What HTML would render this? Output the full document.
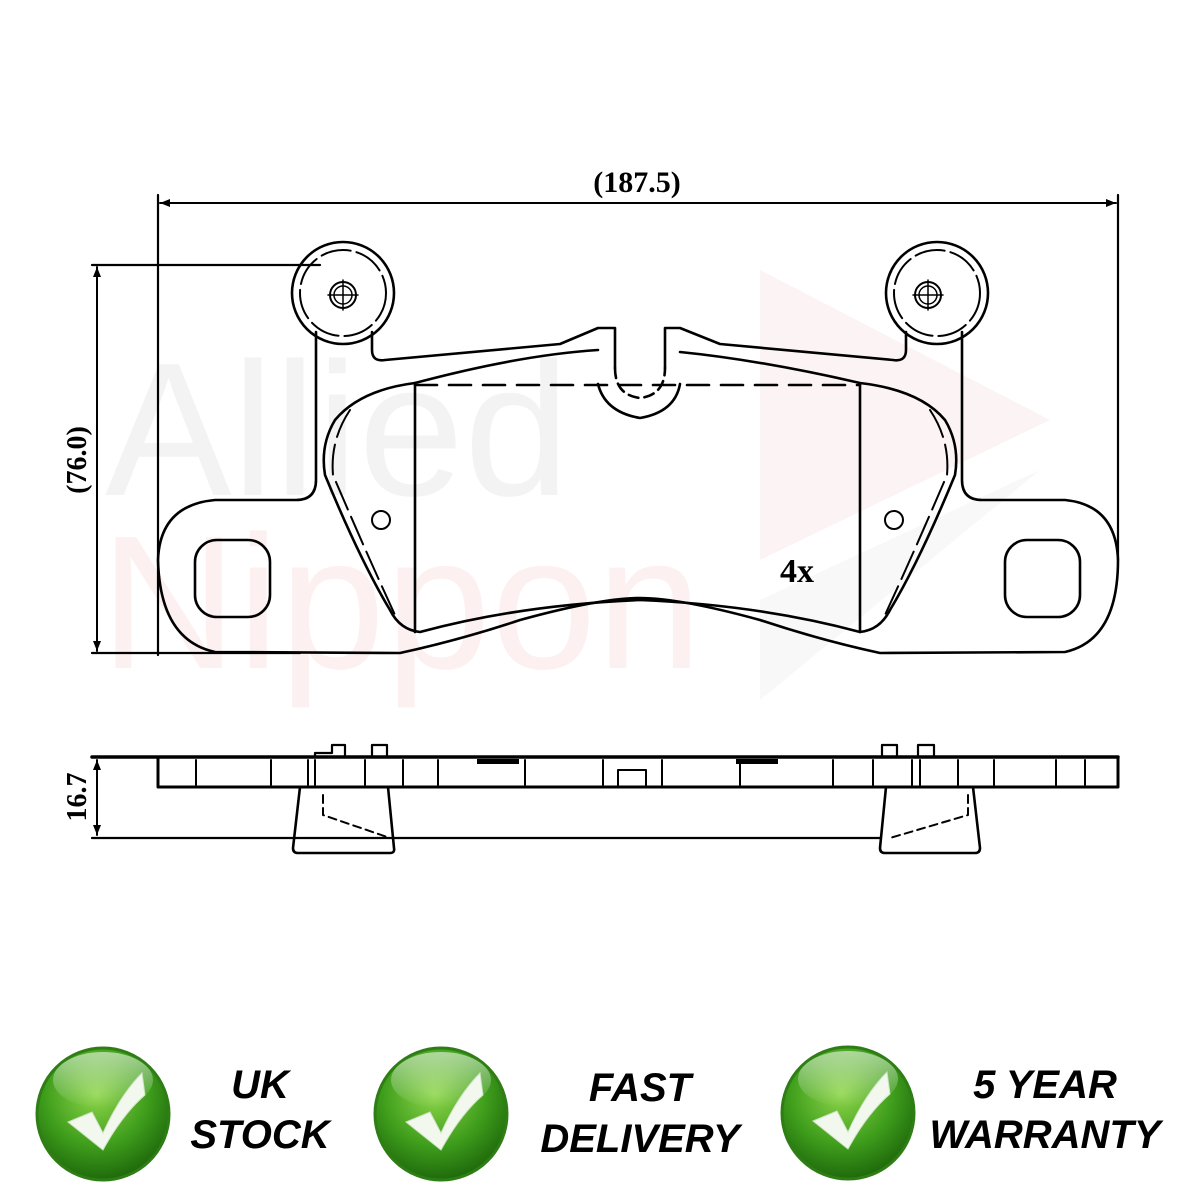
<!DOCTYPE html>
<html><head><meta charset="utf-8"><style>
html,body{margin:0;padding:0;background:#fff;}
svg{display:block}
</style></head><body>
<svg width="1200" height="1200" viewBox="0 0 1200 1200" xmlns="http://www.w3.org/2000/svg">
<defs>
<radialGradient id="g" cx="45%" cy="35%" r="65%">
<stop offset="0" stop-color="#8ed64a"/><stop offset="0.6" stop-color="#3f9e1c"/><stop offset="1" stop-color="#1f6a0c"/>
</radialGradient>
<linearGradient id="gl" x1="0" y1="0" x2="0" y2="1">
<stop offset="0" stop-color="#fff" stop-opacity="0.55"/><stop offset="1" stop-color="#fff" stop-opacity="0"/>
</linearGradient>
<marker id="a" viewBox="0 0 10 10" refX="10" refY="5" markerWidth="14" markerHeight="10" orient="auto-start-reverse" markerUnits="userSpaceOnUse"><path d="M0,1 L10,5 L0,9 z" fill="#000"/></marker>
</defs>
<!-- watermark -->
<text x="105" y="495" font-family="Liberation Sans, sans-serif" font-size="190" fill="#f3f3f3">Allied</text>
<text x="100" y="668" font-family="Liberation Sans, sans-serif" font-size="190" fill="#fcf0f0">Nippon</text>
<path d="M760 270 L1050 420 L760 560 Z" fill="#fcf4f4"/>
<path d="M760 600 L1040 470 L760 700 Z" fill="#f8f8f8"/>

<g fill="none" stroke="#000" stroke-width="2.6" stroke-linecap="round" stroke-linejoin="round">
<line x1="158" y1="195" x2="158" y2="655" stroke-width="2.2"/>
<line x1="1118" y1="195" x2="1118" y2="560" stroke-width="2.2"/>
<line x1="160" y1="203" x2="1116" y2="203" stroke-width="2" marker-start="url(#a)" marker-end="url(#a)"/>
<line x1="92" y1="265" x2="320" y2="265" stroke-width="2.2"/>
<line x1="92" y1="653" x2="300" y2="653" stroke-width="2.2"/>
<line x1="97" y1="267" x2="97" y2="651" stroke-width="2" marker-start="url(#a)" marker-end="url(#a)"/>

<path d="M316 332 L316 480 Q316 500 296 500 L215 500 Q160 505 158 560 Q160 640 215 652 L400 653 Q460 640 520 620 Q600 598 640 598 Q680 598 760 620 Q820 640 880 653 L1065 652 Q1118 640 1118 560 Q1116 505 1065 500 L982 500 Q962 500 962 480 L962 332"/>
<path d="M372 332 L372 350 Q372 362 385 360 L560 344 L598 328 L615 328 L615 368"/>
<path d="M906 332 L906 350 Q906 362 893 360 L720 344 L680 328 L665 328 L665 368"/>
<path d="M598 384 Q605 412 640 418 Q675 412 680 384"/>
<path d="M615 368 Q615 395 640 398 Q665 395 665 368" stroke-dasharray="10 6"/>
<circle cx="343" cy="293" r="51"/><circle cx="343" cy="293" r="43" stroke-width="2" stroke-dasharray="30 6"/>
<circle cx="937" cy="293" r="51"/><circle cx="937" cy="293" r="43" stroke-width="2" stroke-dasharray="30 6"/>
<circle cx="343" cy="295" r="13" stroke-width="2"/><circle cx="343" cy="295" r="9" stroke-width="1.5"/>
<line x1="328" y1="295" x2="358" y2="295" stroke-width="1.5"/><line x1="343" y1="280" x2="343" y2="310" stroke-width="1.5"/>
<circle cx="928" cy="295" r="13" stroke-width="2"/><circle cx="928" cy="295" r="9" stroke-width="1.5"/>
<line x1="913" y1="295" x2="943" y2="295" stroke-width="1.5"/><line x1="928" y1="280" x2="928" y2="310" stroke-width="1.5"/>
<rect x="195" y="540" width="75" height="77" rx="22"/>
<rect x="1005" y="540" width="75" height="77" rx="22"/>
<path d="M415 383 Q360 390 335 420 Q320 445 325 475 Q360 560 390 610 Q400 630 420 632 Q520 605 640 600 Q760 605 860 632 Q880 630 890 610 Q920 560 955 475 Q960 445 945 420 Q920 390 860 383 Q760 360 680 352"/>
<path d="M415 383 Q520 355 598 350"/>
<line x1="415" y1="385" x2="860" y2="385" stroke-dasharray="22 12"/>
<line x1="415" y1="385" x2="415" y2="632"/>
<line x1="860" y1="385" x2="860" y2="632"/>
<path d="M350 410 Q330 440 333 475 Q365 550 395 615" stroke-dasharray="30 8" stroke-width="2"/>
<path d="M930 410 Q950 440 947 475 Q915 550 885 615" stroke-dasharray="30 8" stroke-width="2"/>
<circle cx="381" cy="520" r="9" stroke-width="2"/>
<circle cx="894" cy="520" r="9" stroke-width="2"/>

<line x1="92" y1="757" x2="1118" y2="757" stroke-width="3.5"/>
<line x1="92" y1="838" x2="880" y2="838" stroke-width="2.2"/>
<line x1="97" y1="760" x2="97" y2="835" stroke-width="2" marker-start="url(#a)" marker-end="url(#a)"/>
<rect x="158" y="757" width="960" height="30" stroke-width="3"/>
<path d="M196 760V785M271 760V785M308 760V785M315 760V785M365 760V785M403 760V785M438 760V785M525 760V785M603 760V785M662 760V785M740 760V785M833 760V785M873 760V785M912 760V785M920 760V785M958 760V785M994 760V785M1056 760V785M1085 760V785" stroke-width="2"/>
<path d="M315 757 V753 H332 V745 H345 V757 M372 757 V745 H387 V757 M882 757 V745 H897 V757 M918 757 V745 H934 V757" stroke-width="2.2"/>
<rect x="618" y="770" width="28" height="17" stroke-width="2"/>
<path d="M300 787 L293 848 Q293 853 298 853 L390 853 Q395 853 394 848 L388 787"/>
<path d="M886 787 L880 848 Q880 853 885 853 L975 853 Q980 853 980 848 L973 787"/>
<path d="M323 795 L323 815 L390 838" stroke-dasharray="8 5" stroke-width="2"/>
<path d="M968 795 L968 815 L890 838" stroke-dasharray="8 5" stroke-width="2"/>
</g>
<rect x="477" y="759" width="42" height="5" fill="#000"/>
<rect x="736" y="759" width="42" height="5" fill="#000"/>

<g font-family="Liberation Serif, serif" font-weight="bold" font-size="28" fill="#000">
<text x="637" y="192" text-anchor="middle" font-size="30">(187.5)</text>
<text transform="translate(86,460) rotate(-90)" text-anchor="middle">(76.0)</text>
<text transform="translate(86,797) rotate(-90)" text-anchor="middle">16.7</text>
<text x="780" y="582" font-size="34">4x</text>
</g>

<g>
<circle cx="103" cy="1114" r="66" fill="url(#g)" stroke="#2f7d15" stroke-width="3"/>
<ellipse cx="103" cy="1080" rx="50" ry="28" fill="url(#gl)"/>
<path d="M68 1122 L92 1112 L103 1133 Q120 1095 142 1073 L145 1095 Q122 1115 103 1150 Z" fill="#f2f8ee" stroke="#cfe3c4" stroke-width="1"/>
</g>
<g>
<circle cx="441" cy="1114" r="66" fill="url(#g)" stroke="#2f7d15" stroke-width="3"/>
<ellipse cx="441" cy="1080" rx="50" ry="28" fill="url(#gl)"/>
<path d="M406 1122 L430 1112 L441 1133 Q458 1095 480 1073 L483 1095 Q460 1115 441 1150 Z" fill="#f2f8ee" stroke="#cfe3c4" stroke-width="1"/>
</g>
<g>
<circle cx="848" cy="1113" r="66" fill="url(#g)" stroke="#2f7d15" stroke-width="3"/>
<ellipse cx="848" cy="1079" rx="50" ry="28" fill="url(#gl)"/>
<path d="M813 1121 L837 1111 L848 1132 Q865 1094 887 1072 L890 1094 Q867 1114 848 1149 Z" fill="#f2f8ee" stroke="#cfe3c4" stroke-width="1"/>
</g>
<g font-family="Liberation Sans, sans-serif" font-weight="bold" font-style="italic" font-size="40" fill="#000" text-anchor="middle">
<text x="260" y="1098">UK</text>
<text x="260" y="1148">STOCK</text>
<text x="640" y="1101">FAST</text>
<text x="640" y="1152">DELIVERY</text>
<text x="1045" y="1098">5 YEAR</text>
<text x="1045" y="1148">WARRANTY</text>
</g>
</svg>
</body></html>
